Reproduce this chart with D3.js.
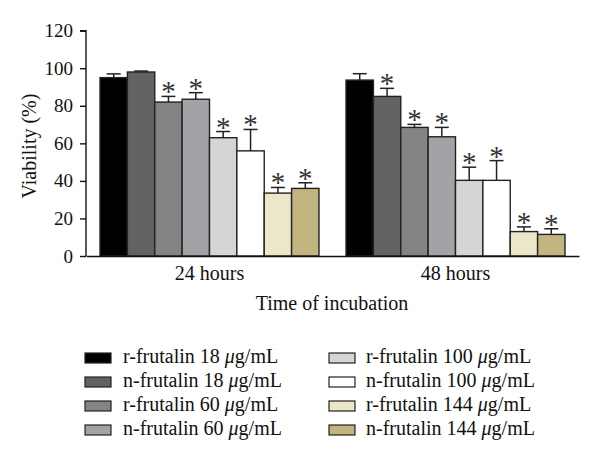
<!DOCTYPE html>
<html><head><meta charset="utf-8">
<script src="https://cdn.jsdelivr.net/npm/d3@7"></script>
<style>body{margin:0;background:#fff}svg{display:block}text{font-family:"Liberation Serif","Times New Roman",serif;fill:#111}</style>
</head><body><svg id="c" width="600" height="468"></svg>
<script>
const groups = ["24 hours", "48 hours"];
const seriesNames = ["r-frutalin 18", "n-frutalin 18", "r-frutalin 60", "n-frutalin 60",
  "r-frutalin 100", "n-frutalin 100", "r-frutalin 144", "n-frutalin 144"];
const colors = ["#000000", "#626262", "#848484", "#a3a3a7", "#d5d5d5", "#ffffff", "#ede7ca", "#c3b57f"];
const values24 = [95, 98, 82, 83.5, 63, 56, 33.5, 36];
const errors24 = [2, 0.5, 3, 3.5, 3.3, 11.4, 3, 3];
const sig24 = [false, false, true, true, true, true, true, true];
const values48 = [93.7, 85, 68.5, 63.5, 40.3, 40.3, 13, 11.5];
const errors48 = [3.4, 4.3, 1.6, 5, 7, 10.5, 2.5, 3];
const sig48 = [false, true, true, true, true, true, true, true];
const yTicks = [0, 20, 40, 60, 80, 100, 120];

const svg = d3.select("#c");
const x0 = d3.scaleBand().domain(groups).range([86, 579]).paddingInner(0.11).paddingOuter(0.057);
const x1 = d3.scaleBand().domain(d3.range(8)).range([0, x0.bandwidth()]);
const y = d3.scaleLinear().domain([0, 120]).range([256, 30.7]);

const data = [];
groups.forEach((g, gi) => {
  const v = gi === 0 ? values24 : values48, e = gi === 0 ? errors24 : errors48, s = gi === 0 ? sig24 : sig48;
  v.forEach((val, i) => data.push({g, i, val, err: e[i], sig: s[i]}));
});

// bars
svg.append("g").selectAll("rect").data(data).join("rect")
  .attr("x", d => x0(d.g) + x1(d.i)).attr("y", d => y(d.val))
  .attr("width", x1.bandwidth()).attr("height", d => y(0) - y(d.val))
  .attr("fill", d => colors[d.i]).attr("stroke", "#222").attr("stroke-width", 1.4);

// error bars
const eg = svg.append("g").attr("stroke", "#222").attr("stroke-width", 1.5);
data.forEach(d => {
  const cx = x0(d.g) + x1(d.i) + x1.bandwidth() / 2;
  eg.append("line").attr("x1", cx).attr("x2", cx).attr("y1", y(d.val)).attr("y2", y(d.val + d.err));
  eg.append("line").attr("x1", cx - 7).attr("x2", cx + 7).attr("y1", y(d.val + d.err)).attr("y2", y(d.val + d.err));
});

// asterisks
svg.append("g").selectAll("text").data(data.filter(d => d.sig)).join("text")
  .attr("x", d => x0(d.g) + x1(d.i) + x1.bandwidth() / 2)
  .attr("y", d => y(d.val + d.err) + 5)
  .attr("text-anchor", "middle").style("font-size", "29px").style("fill", "#333").text("*");

// axes
const ya = svg.append("g").attr("transform", "translate(86,0)")
  .call(d3.axisLeft(y).tickValues(yTicks).tickSize(6).tickPadding(7));
ya.select(".domain").attr("stroke", "#111").attr("stroke-width", 1.4).attr("d", `M-6,${y(120)}H0V${y(0)}`);
ya.selectAll(".tick line").attr("stroke", "#111").attr("stroke-width", 1.4);
ya.selectAll(".tick text").style("font-size", "19px").style("font-family", "Liberation Serif").attr("fill", "#111");

const xa = svg.append("g").attr("transform", "translate(0,256)")
  .call(d3.axisBottom(x0).tickSize(0).tickPadding(10));
xa.select(".domain").attr("stroke", "#111").attr("stroke-width", 1.4);
xa.selectAll(".tick text").style("font-size", "20px").style("font-family", "Liberation Serif").attr("fill", "#111");

svg.append("text").attr("x", 332).attr("y", 310).attr("text-anchor", "middle")
  .style("font-size", "20px").text("Time of incubation");
svg.append("text").attr("transform", "translate(36,146) rotate(-90)").attr("text-anchor", "middle")
  .style("font-size", "20px").text("Viability (%)");

// legend
const leg = svg.append("g");
seriesNames.forEach((name, i) => {
  const col = Math.floor(i / 4), row = i % 4;
  const sx = col === 0 ? 85 : 329, tx = col === 0 ? 123 : 366, cy = 358 + row * 24;
  leg.append("rect").attr("x", sx).attr("y", cy - 5).attr("width", 26).attr("height", 10)
    .attr("fill", colors[i]).attr("stroke", "#222").attr("stroke-width", 1.2);
  const t = leg.append("text").attr("x", tx).attr("y", cy + 5).style("font-size", "20px");
  t.append("tspan").text(name + " ");
  t.append("tspan").style("font-style", "italic").text("\u03bc");
  t.append("tspan").text("g/mL");
});
</script></body></html>
